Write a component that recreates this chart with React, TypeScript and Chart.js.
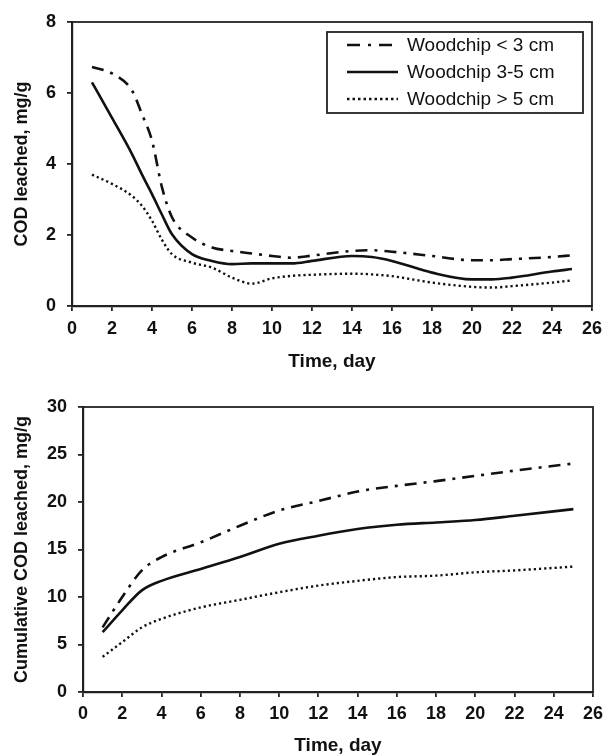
import React, { useEffect, useRef } from "react";
import { Chart, registerables } from "chart.js";

Chart.register(...registerables);

const seriesNames = ["Woodchip < 3 cm", "Woodchip 3-5 cm", "Woodchip > 5 cm"];

const xTop = [1, 2, 3, 3.5, 4, 4.5, 5, 6, 7, 8, 9, 10, 11, 12, 14, 15, 16, 18, 20, 21, 22, 24, 25];
const codSmall = [6.73, 6.55, 6.07, 5.4, 4.66, 3.34, 2.5, 1.93, 1.65, 1.55, 1.48, 1.41, 1.36, 1.42, 1.55, 1.57, 1.53, 1.41, 1.29, 1.29, 1.32, 1.38, 1.43];
const codMedium = [6.3, 5.3, 4.28, 3.7, 3.15, 2.57, 2.02, 1.46, 1.27, 1.18, 1.2, 1.2, 1.2, 1.27, 1.41, 1.38, 1.27, 0.94, 0.75, 0.75, 0.8, 0.97, 1.04];
const codLarge = [3.7, 3.44, 3.1, 2.82, 2.4, 1.86, 1.46, 1.22, 1.08, 0.8, 0.63, 0.78, 0.85, 0.88, 0.91, 0.89, 0.84, 0.66, 0.54, 0.52, 0.56, 0.66, 0.72];

const xBottom = [1, 2, 3, 4, 6, 8, 10, 12, 14, 16, 18, 20, 22, 25];
const cumSmall = [6.8, 10.0, 12.8, 14.2, 15.75, 17.5, 19.1, 20.1, 21.1, 21.7, 22.2, 22.75, 23.3, 24.05];
const cumMedium = [6.3, 8.6, 10.7, 11.7, 12.95, 14.2, 15.6, 16.45, 17.15, 17.6, 17.85, 18.1, 18.55, 19.25];
const cumLarge = [3.7, 5.25, 6.8, 7.7, 8.9, 9.7, 10.5, 11.2, 11.7, 12.1, 12.25, 12.6, 12.8, 13.2];

const topYTitle = "COD leached, mg/g";
const bottomYTitle = "Cumulative COD leached, mg/g";
const xTitle = "Time, day";

const FONT = "'Liberation Sans', Arial, sans-serif";
const INK = "#111";

const styles = [
  { borderDash: [12, 7, 3, 7], borderWidth: 2.6 },
  { borderDash: [], borderWidth: 2.6 },
  { borderDash: [2.2, 3], borderWidth: 2.4 },
];

function makeDatasets(xs: number[], series: number[][]) {
  return series.map((vals, i) => ({
    label: seriesNames[i],
    data: xs.map((x, j) => ({ x, y: vals[j] })),
    borderColor: INK,
    backgroundColor: INK,
    borderWidth: styles[i].borderWidth,
    borderDash: styles[i].borderDash,
    pointRadius: 0,
    fill: false,
    cubicInterpolationMode: "monotone" as const,
  }));
}

const framePlugin = {
  id: "frame",
  afterDraw(chart: any) {
    const { ctx, chartArea } = chart;
    ctx.save();
    ctx.strokeStyle = "#222";
    ctx.lineWidth = 1.8;
    ctx.strokeRect(chartArea.left, chartArea.top, chartArea.right - chartArea.left, chartArea.bottom - chartArea.top);
    ctx.restore();
  },
};

const legendPlugin = {
  id: "boxLegend",
  afterDraw(chart: any) {
    const opts = chart.options.plugins.boxLegend;
    if (!opts || !opts.show) return;
    const { ctx } = chart;
    const bx = 327, by = 32, bw = 256, bh = 81;
    ctx.save();
    ctx.fillStyle = "#fff";
    ctx.fillRect(bx, by, bw, bh);
    ctx.strokeStyle = "#222";
    ctx.lineWidth = 1.8;
    ctx.strokeRect(bx, by, bw, bh);
    const rows = [45, 72, 99];
    chart.data.datasets.forEach((ds: any, i: number) => {
      const y = rows[i];
      ctx.beginPath();
      ctx.setLineDash(i === 0 ? [13, 8, 3, 8] : i === 2 ? [2.5, 3] : []);
      ctx.lineWidth = ds.borderWidth;
      ctx.strokeStyle = INK;
      ctx.moveTo(347, y);
      ctx.lineTo(i === 0 ? 392 : 398, y);
      ctx.stroke();
      ctx.setLineDash([]);
      ctx.fillStyle = INK;
      ctx.font = `19px ${FONT}`;
      ctx.textBaseline = "middle";
      ctx.textAlign = "left";
      ctx.fillText(ds.label, 407, y + 1);
    });
    ctx.restore();
  },
};

function buildOptions(cfg: {
  yMax: number;
  yStep: number;
  yTitle: string;
  yWidth: number;
  xHeight: number;
  padRight: number;
  padTop: number;
  tickPadX: number;
  tickPadY: number;
  xTitlePad: number;
  legend: boolean;
}) {
  const tickFont = { family: FONT, size: 18, weight: "bold" as const };
  const xTitleFont = { family: FONT, size: 19, weight: "bold" as const, lineHeight: 1 };
  const yTitleFont = { family: FONT, size: 18, weight: "bold" as const, lineHeight: 1 };
  return {
    responsive: false,
    animation: false as const,
    devicePixelRatio: 1,
    layout: { padding: { left: 0, right: cfg.padRight, top: cfg.padTop, bottom: 0 } },
    plugins: {
      legend: { display: false },
      tooltip: { enabled: false },
      boxLegend: { show: cfg.legend },
    },
    scales: {
      x: {
        type: "linear" as const,
        min: 0,
        max: 26,
        afterFit(scale: any) {
          scale.height = cfg.xHeight;
        },
        ticks: { stepSize: 2, color: INK, font: tickFont, padding: cfg.tickPadX, maxRotation: 0, autoSkip: false },
        grid: { drawOnChartArea: false, drawTicks: true, tickLength: 5, color: "#222", lineWidth: 1.8 },
        border: { display: true, color: "#222", width: 2.2 },
        title: { display: true, text: xTitle, color: INK, font: xTitleFont, padding: { top: 0, bottom: cfg.xTitlePad } },
      },
      y: {
        type: "linear" as const,
        min: 0,
        max: cfg.yMax,
        afterFit(scale: any) {
          scale.width = cfg.yWidth;
        },
        ticks: { stepSize: cfg.yStep, color: INK, font: tickFont, padding: cfg.tickPadY },
        grid: { drawOnChartArea: false, drawTicks: true, tickLength: 5, color: "#222", lineWidth: 1.8 },
        border: { display: true, color: "#222", width: 2.2 },
        title: { display: true, text: cfg.yTitle, color: INK, font: yTitleFont, padding: { top: 13, bottom: 0 } },
      },
    },
  };
}

export default function App() {
  const topRef = useRef<HTMLCanvasElement | null>(null);
  const bottomRef = useRef<HTMLCanvasElement | null>(null);

  useEffect(() => {
    const top = new Chart(topRef.current as HTMLCanvasElement, {
      type: "line",
      data: { datasets: makeDatasets(xTop, [codSmall, codMedium, codLarge]) as any },
      options: buildOptions({
        yMax: 8,
        yStep: 2,
        yTitle: topYTitle,
        yWidth: 72,
        xHeight: 69,
        padRight: 15,
        padTop: 22,
        tickPadX: 7,
        tickPadY: 11,
        xTitlePad: 4,
        legend: true,
      }) as any,
      plugins: [framePlugin, legendPlugin],
    });
    const bottom = new Chart(bottomRef.current as HTMLCanvasElement, {
      type: "line",
      data: { datasets: makeDatasets(xBottom, [cumSmall, cumMedium, cumLarge]) as any },
      options: buildOptions({
        yMax: 30,
        yStep: 5,
        yTitle: bottomYTitle,
        yWidth: 83,
        xHeight: 63,
        padRight: 15,
        padTop: 32,
        tickPadX: 6,
        tickPadY: 11,
        xTitlePad: 0,
        legend: false,
      }) as any,
      plugins: [framePlugin],
    });
    return () => {
      top.destroy();
      bottom.destroy();
    };
  }, []);

  return (
    <div style={{ position: "absolute", left: 0, top: 0, width: 609, height: 755, background: "#fff" }}>
      <canvas ref={topRef} width={609} height={375} style={{ position: "absolute", left: 0, top: 0 }} />
      <canvas ref={bottomRef} width={609} height={380} style={{ position: "absolute", left: 0, top: 375 }} />
    </div>
  );
}
